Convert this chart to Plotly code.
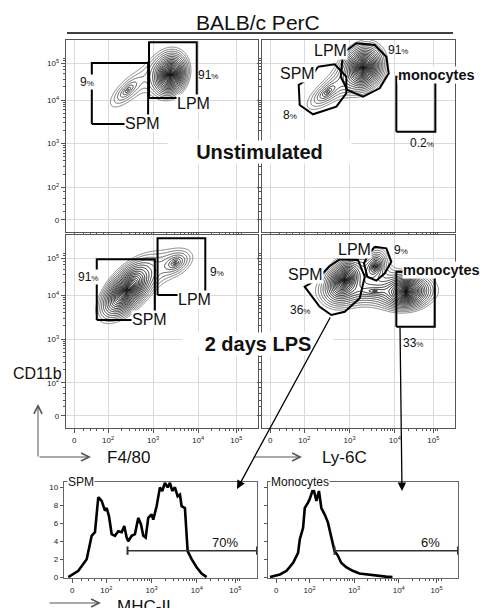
import numpy as np
import plotly.graph_objects as go

W, H = 482, 608
FONT = "Liberation Sans, Arial, sans-serif"

# ---------------- axis structure (display units ~ decades, biexponential-like) ----------------
TICK_POS = [1.25, 2.0, 3.0, 4.0, 4.85]
TICK_TEXT = ["0", "10<sup>2</sup>", "10<sup>3</sup>", "10<sup>4</sup>", "10<sup>5</sup>"]
X_RANGE = [1.067, 5.33]
Y_RANGE = [0.97, 5.38]
HIST_Y_RANGE = [-0.1, 10.6]
HIST_Y_TICKS = [0, 2, 4, 6, 8, 10]

# ---------------- populations (centre x, centre y, semi-axes, angle, relative peak) ----------------
TL_CX = [2.44, 3.38]
TL_CY = [4.23, 4.58]
TL_A = [0.50, 0.56]
TL_B = [0.20, 0.42]
TL_ANG = [45, 75]
TL_PEAK = [3.5, 100]

TR_CX = [2.52, 3.30]
TR_CY = [4.19, 4.74]
TR_A = [0.55, 0.60]
TR_B = [0.22, 0.48]
TR_ANG = [40, 70]
TR_PEAK = [4.5, 100]

BL_CX = [2.42, 3.49]
BL_CY = [4.12, 4.74]
BL_A = [0.90, 0.40]
BL_B = [0.45, 0.25]
BL_ANG = [50, 30]
BL_PEAK = [100, 5]

BR_CX = [2.89, 3.56, 4.25, 3.56]
BR_CY = [4.35, 4.66, 4.085, 4.10]
BR_A = [0.60, 0.35, 0.56, 0.80]
BR_B = [0.42, 0.22, 0.42, 0.22]
BR_ANG = [60, 70, 8, 0]
BR_PEAK = [80, 12, 100, 5]

# ---------------- gates ----------------
TL_SPM_X = [1.64, 2.89]; TL_SPM_Y = [3.45, 4.85]
TL_LPM_X = [2.91, 3.97]; TL_LPM_Y = [4.05, 5.33]
TR_SPM_GX = [2.304, 2.673, 2.93, 2.93, 2.709, 2.194, 1.90, 1.878, 2.156]
TR_SPM_GY = [4.767, 4.822, 4.537, 4.156, 3.848, 3.673, 3.887, 4.346, 4.537]
TR_LPM_GX = [2.857, 3.15, 3.557, 3.813, 3.866, 3.667, 3.298, 2.952, 2.806]
TR_LPM_GY = [5.075, 5.304, 5.265, 4.996, 4.615, 4.271, 4.078, 4.232, 4.537]
TR_MONO_X = [4.034, 4.896]; TR_MONO_Y = [3.274, 4.537]
BL_SPM_X = [1.75, 3.04]; BL_SPM_Y = [3.44, 4.825]
BL_LPM_X = [3.10, 4.16]; BL_LPM_Y = [4.009, 5.305]
BR_SPM_GX = [2.563, 2.784, 3.188, 3.336, 3.226, 2.894, 2.598, 2.342, 2.01, 2.267]
BR_SPM_GY = [4.672, 4.825, 4.809, 4.427, 3.934, 3.627, 3.552, 3.741, 4.199, 4.352]
BR_LPM_GX = [3.557, 3.813, 3.924, 3.778, 3.592, 3.393, 3.32, 3.409]
BR_LPM_GY = [5.113, 5.076, 4.77, 4.505, 4.336, 4.427, 4.733, 4.923]
BR_MONO_X = [4.034, 4.883]; BR_MONO_Y = [3.285, 4.541]

# ---------------- histograms (MHC-II) ----------------
SPM_HIST_X = [1.162, 1.383, 1.568, 1.678, 1.751, 1.824, 1.899, 1.972, 2.010, 2.060, 2.120,
              2.193, 2.266, 2.341, 2.398, 2.451, 2.486, 2.561, 2.634, 2.707, 2.767, 2.818,
              2.871, 2.928, 3.003, 3.038, 3.113, 3.186, 3.237, 3.296, 3.356, 3.407, 3.458,
              3.517, 3.577, 3.628, 3.665, 3.738, 3.798, 3.886, 3.996, 4.107, 4.217]
SPM_HIST_Y = [0, 0.7, 2.0, 4.6, 5.0, 8.9, 8.5, 7.4, 7.7, 6.8, 4.8,
              4.6, 5.1, 5.0, 5.7, 4.4, 4.0, 4.6, 4.8, 6.6, 5.9, 4.6,
              4.4, 6.6, 7.0, 6.4, 7.9, 10.0, 9.6, 10.5, 10.0, 10.5, 9.6,
              10.0, 9.0, 9.2, 7.9, 7.7, 2.9, 2.0, 1.1, 0.4, 0]
MONO_HIST_X = [1.112, 1.334, 1.484, 1.631, 1.742, 1.780, 1.854, 1.892, 1.965, 2.003, 2.063,
               2.099, 2.152, 2.210, 2.264, 2.337, 2.411, 2.487, 2.560, 2.634, 2.709, 2.821,
               2.968, 3.117, 3.340, 3.563, 3.712, 3.860]
MONO_HIST_Y = [0, 0.3, 0.7, 1.6, 2.7, 4.2, 5.5, 7.7, 8.3, 8.7, 9.6,
               9.6, 8.5, 9.6, 7.7, 7.0, 6.1, 4.6, 2.9, 2.4, 1.6, 1.1,
               0.7, 0.4, 0.25, 0.1, 0.05, 0]
SPM_HIST_GATE = [2.47, 5.33]; SPM_HIST_GATE_Y = 2.95; SPM_HIST_PCT = "70%"
MONO_HIST_GATE = [2.56, 5.33]; MONO_HIST_GATE_Y = 2.95; MONO_HIST_PCT = "6%"

# ---------------- helpers ----------------
SHAPE_P = 0.6
GX = np.linspace(X_RANGE[0], X_RANGE[1], 280)
GY = np.linspace(Y_RANGE[0], Y_RANGE[1], 280)


def density(cx, cy, a, b, ang, peak):
    X, Y = np.meshgrid(GX, GY)
    f = np.zeros_like(X)
    for i in range(len(cx)):
        t = np.deg2rad(ang[i])
        dx, dy = X - cx[i], Y - cy[i]
        u = (dx * np.cos(t) + dy * np.sin(t)) / a[i]
        v = (-dx * np.sin(t) + dy * np.cos(t)) / b[i]
        d = np.sqrt(u * u + v * v)
        k = np.log(peak[i])
        f += peak[i] * np.exp(-k * d ** SHAPE_P)
    return np.log10(f + 1e-9)


def px2paper(px, py):
    return px / W, 1 - py / H


fig = go.Figure()
CSCALE = [[0, "#7a7a7a"], [0.15, "#3a3a3a"], [0.32, "#080808"], [1, "#000000"]]


def add_contour(pops, xa, ya):
    z = density(*pops)
    fig.add_trace(go.Contour(
        x=GX, y=GY, z=z, xaxis=xa, yaxis=ya, showscale=False, autocontour=False,
        contours=dict(start=0.0, end=2.0, size=0.075, coloring="lines"),
        colorscale=CSCALE, zmin=0, zmax=2, line=dict(width=0.95), hoverinfo="skip"))


add_contour((TL_CX, TL_CY, TL_A, TL_B, TL_ANG, TL_PEAK), "x", "y")
add_contour((TR_CX, TR_CY, TR_A, TR_B, TR_ANG, TR_PEAK), "x2", "y2")
add_contour((BL_CX, BL_CY, BL_A, BL_B, BL_ANG, BL_PEAK), "x3", "y3")
add_contour((BR_CX, BR_CY, BR_A, BR_B, BR_ANG, BR_PEAK), "x4", "y4")

GATE_LINE = dict(color="black", width=2)


def rect_gate(xs, ys, xa, ya):
    fig.add_trace(go.Scatter(x=[xs[0], xs[0], xs[1], xs[1], xs[0]],
                             y=[ys[0], ys[1], ys[1], ys[0], ys[0]],
                             mode="lines", line=GATE_LINE, xaxis=xa, yaxis=ya,
                             hoverinfo="skip", showlegend=False))


def poly_gate(xs, ys, xa, ya):
    fig.add_trace(go.Scatter(x=list(xs) + [xs[0]], y=list(ys) + [ys[0]],
                             mode="lines", line=GATE_LINE, xaxis=xa, yaxis=ya,
                             hoverinfo="skip", showlegend=False))


rect_gate(TL_SPM_X, TL_SPM_Y, "x", "y")
rect_gate(TL_LPM_X, TL_LPM_Y, "x", "y")
poly_gate(TR_SPM_GX, TR_SPM_GY, "x2", "y2")
poly_gate(TR_LPM_GX, TR_LPM_GY, "x2", "y2")
rect_gate(TR_MONO_X, TR_MONO_Y, "x2", "y2")
rect_gate(BL_SPM_X, BL_SPM_Y, "x3", "y3")
rect_gate(BL_LPM_X, BL_LPM_Y, "x3", "y3")
poly_gate(BR_SPM_GX, BR_SPM_GY, "x4", "y4")
poly_gate(BR_LPM_GX, BR_LPM_GY, "x4", "y4")
rect_gate(BR_MONO_X, BR_MONO_Y, "x4", "y4")

# histograms
fig.add_trace(go.Scatter(x=SPM_HIST_X, y=SPM_HIST_Y, mode="lines", xaxis="x5", yaxis="y5",
                         line=dict(color="black", width=2.6), showlegend=False, hoverinfo="skip"))
fig.add_trace(go.Scatter(x=MONO_HIST_X, y=MONO_HIST_Y, mode="lines", xaxis="x6", yaxis="y6",
                         line=dict(color="black", width=2.6), showlegend=False, hoverinfo="skip"))
for gx, gy, xa, ya in [(SPM_HIST_GATE, SPM_HIST_GATE_Y, "x5", "y5"),
                       (MONO_HIST_GATE, MONO_HIST_GATE_Y, "x6", "y6")]:
    fig.add_trace(go.Scatter(x=gx, y=[gy, gy], mode="lines+markers", xaxis=xa, yaxis=ya,
                             line=dict(color="#333", width=1.5),
                             marker=dict(symbol="line-ns", size=6, line=dict(width=2, color="#333")),
                             showlegend=False, hoverinfo="skip", cliponaxis=False))

# ---------------- axes ----------------
def minor_vals():
    vals = []
    for d in [2, 3, 4]:
        for k in range(2, 10):
            vals.append(d + np.log10(k))
    vals += [1.45, 1.6, 1.75, 1.9]
    return vals


MINOR = minor_vals()
AXCOL = "#555"


def xaxis(dom, labels):
    return dict(domain=dom, range=X_RANGE, tickvals=TICK_POS, ticktext=TICK_TEXT,
                showticklabels=labels, ticks="outside", ticklen=4, tickcolor=AXCOL,
                showgrid=True, gridcolor="#dadada", gridwidth=1, zeroline=False,
                showline=True, mirror=True, linecolor=AXCOL, linewidth=1.3,
                tickfont=dict(size=8, color="#222", family=FONT), automargin=False,
                minor=dict(tickvals=MINOR, ticks="outside", ticklen=2, tickcolor=AXCOL, showgrid=False),
                fixedrange=True)


def yaxis(dom, labels, anchor):
    return dict(domain=dom, range=Y_RANGE, tickvals=TICK_POS, ticktext=TICK_TEXT,
                showticklabels=labels, ticks="outside", ticklen=4, tickcolor=AXCOL, anchor=anchor,
                showgrid=True, gridcolor="#dadada", gridwidth=1, zeroline=False,
                showline=True, mirror=True, linecolor=AXCOL, linewidth=1.3,
                tickfont=dict(size=8, color="#222", family=FONT), automargin=False,
                minor=dict(tickvals=MINOR, ticks="outside", ticklen=2, tickcolor=AXCOL, showgrid=False),
                fixedrange=True)


def dom_x(a, b):
    return [a / W, b / W]


def dom_y(top, bot):
    return [1 - bot / H, 1 - top / H]


layout = dict(
    width=W, height=H, margin=dict(l=0, r=0, t=0, b=0, pad=0, autoexpand=False), autosize=False,
    paper_bgcolor="white", plot_bgcolor="white", showlegend=False,
    font=dict(family=FONT, color="#111"),
    xaxis=xaxis(dom_x(66, 258), False) | dict(anchor="y"),
    yaxis=yaxis(dom_y(40, 232), True, "x"),
    xaxis2=xaxis(dom_x(262, 455), False) | dict(anchor="y2"),
    yaxis2=yaxis(dom_y(40, 232), False, "x2"),
    xaxis3=xaxis(dom_x(66, 258), True) | dict(anchor="y3"),
    yaxis3=yaxis(dom_y(235, 428), True, "x3"),
    xaxis4=xaxis(dom_x(262, 455), True) | dict(anchor="y4"),
    yaxis4=yaxis(dom_y(235, 428), False, "x4"),
    xaxis5=xaxis(dom_x(64, 257), True) | dict(anchor="y5", showgrid=False, linecolor="#666"),
    yaxis5=dict(domain=dom_y(482, 578), range=HIST_Y_RANGE, tickvals=HIST_Y_TICKS, anchor="x5",
                ticks="outside", ticklen=3, tickcolor=AXCOL, showgrid=False, zeroline=False,
                showline=True, mirror=True, linecolor="#666", linewidth=1.3, automargin=False,
                tickfont=dict(size=8, color="#222", family=FONT), fixedrange=True),
    xaxis6=xaxis(dom_x(268, 458), True) | dict(anchor="y6", showgrid=False, linecolor="#666"),
    yaxis6=dict(domain=dom_y(482, 578), range=HIST_Y_RANGE, tickvals=HIST_Y_TICKS, anchor="x6",
                ticks="outside", ticklen=3, tickcolor=AXCOL, showgrid=False, zeroline=False,
                showticklabels=False, automargin=False,
                showline=True, mirror=True, linecolor="#666", linewidth=1.3, fixedrange=True),
)
fig.update_layout(**layout)

# ---------------- annotations ----------------
ann = []


def pct(n, small=8):
    return f"{n}<span style='font-size:{small}px'>%</span>"


def dtext(text, x, y, xa, ya, size=16, bold=False, bg=None, xanchor="center"):
    t = f"<b>{text}</b>" if bold else text
    d = dict(text=t, x=x, y=y, xref=xa, yref=ya, showarrow=False, xanchor=xanchor, yanchor="middle",
             font=dict(size=size, color="#111", family=FONT), borderpad=0)
    if bg:
        d["bgcolor"] = bg
    ann.append(d)


# top-left
dtext(pct(9), 1.53, 4.415, "x", "y", 12, bg="white")
dtext(pct(91), 4.22, 4.58, "x", "y", 12)
dtext("LPM", 3.89, 3.93, "x", "y", 16, bg="white")
dtext("SPM", 2.76, 3.47, "x", "y", 16, bg="white")
# top-right
dtext("LPM", 2.57, 5.15, "x2", "y2", 16, bg="white")
dtext(pct(91), 4.07, 5.15, "x2", "y2", 12)
dtext("SPM", 1.86, 4.62, "x2", "y2", 16, bg="white")
dtext(pct(8), 1.69, 3.66, "x2", "y2", 12)
dtext("monocytes", 4.05, 4.58, "x2", "y2", 14.5, bold=True, bg="white", xanchor="left")
dtext(pct("0.2"), 4.60, 3.015, "x2", "y2", 12)
# bottom-left
dtext(pct(91), 1.56, 4.42, "x3", "y3", 12, bg="white")
dtext("SPM", 2.93, 3.44, "x3", "y3", 16, bg="white")
dtext("LPM", 3.93, 3.895, "x3", "y3", 16, bg="white")
dtext(pct(9), 4.42, 4.535, "x3", "y3", 12)
# bottom-right
dtext("SPM", 2.02, 4.47, "x4", "y4", 16, bg="white")
dtext("LPM", 3.10, 5.04, "x4", "y4", 16, bg="white")
dtext(pct(9), 4.14, 5.04, "x4", "y4", 12)
dtext("monocytes", 4.16, 4.58, "x4", "y4", 14.5, bold=True, bg="white", xanchor="left")
dtext(pct(36), 1.91, 3.67, "x4", "y4", 12)
dtext(pct(33), 4.40, 2.91, "x4", "y4", 12)
# histogram gate labels
dtext(SPM_HIST_PCT, 4.62, 3.85, "x5", "y5", 13)
dtext(MONO_HIST_PCT, 4.72, 3.85, "x6", "y6", 13)


def ptext(text, px, py, size, bold=False, bg=None, xanchor="center", width=None, color="#111"):
    x, y = px2paper(px, py)
    t = f"<b>{text}</b>" if bold else text
    d = dict(text=t, x=x, y=y, xref="paper", yref="paper", showarrow=False, xanchor=xanchor,
             yanchor="middle", font=dict(size=size, color=color, family=FONT), borderpad=0)
    if bg:
        d["bgcolor"] = bg
    if width:
        d["width"] = width
    ann.append(d)


ptext("BALB/c PerC", 258, 22, 21)
ptext("Unstimulated", 259, 152, 20, bold=True, bg="white", width=183)
ptext("2 days LPS", 258, 344, 20, bold=True, bg="white", width=150)
ptext("CD11b", 37, 373, 16)
ptext("F4/80", 128, 457, 17)
ptext("Ly-6C", 344, 457, 17)
ptext("MHC-II", 144, 606, 17)
ptext("SPM", 67, 482, 12, bg="white", xanchor="left")
ptext("Monocytes", 270, 482, 12, bg="white", xanchor="left")


def arrow(hx, hy, tx, ty, head, color, width, size=1.0):
    x, y = px2paper(hx, hy)
    ann.append(dict(x=x, y=y, xref="paper", yref="paper", ax=tx - hx, ay=ty - hy,
                    axref="pixel", ayref="pixel", showarrow=True, arrowhead=head,
                    arrowsize=size, arrowwidth=width, arrowcolor=color, text=""))


arrow(38, 404, 38, 458, 5, "#555", 1, 1.6)
arrow(91, 457, 38, 457, 5, "#555", 1, 1.6)
arrow(302, 457, 252, 457, 5, "#555", 1, 1.6)
arrow(101, 603, 48, 603, 5, "#555", 1, 1.6)
arrow(237, 489, 331, 316, 2, "black", 1.3, 1.3)
arrow(402, 491, 400, 326, 2, "black", 1.3, 1.3)

fig.update_layout(annotations=ann)

# title underline
x0, y0 = px2paper(67, 33)
x1, _ = px2paper(453, 33)
fig.add_shape(type="line", xref="paper", yref="paper", x0=x0, x1=x1, y0=y0, y1=y0,
              line=dict(color="black", width=1.5))

fig.write_html("out.html", config={"displayModeBar": False, "staticPlot": True},
               post_script="document.body.style.margin='0';document.body.style.overflow='hidden';")
